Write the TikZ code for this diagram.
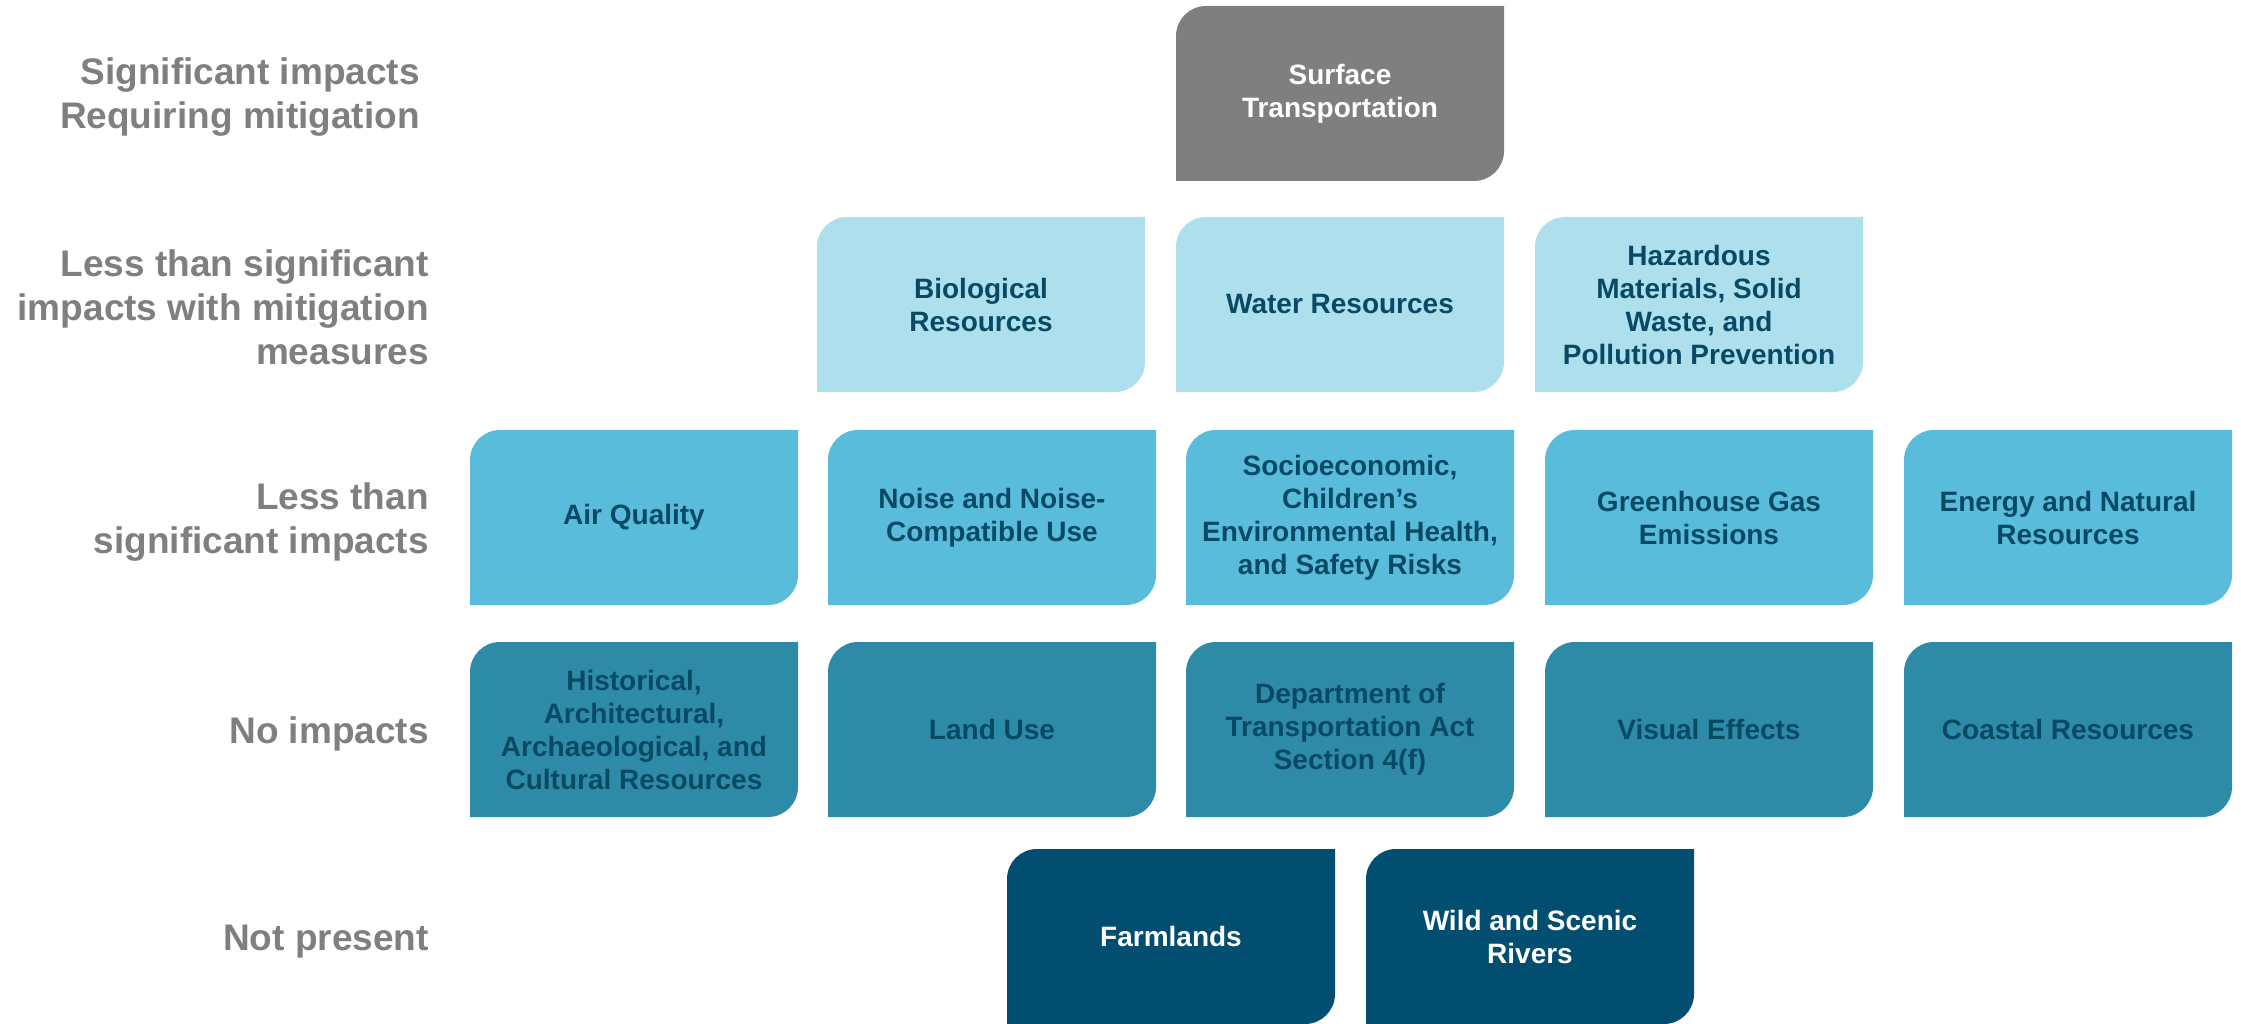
\documentclass[tikz,border=0pt]{standalone}
\usepackage{fontspec}
\setmainfont{Liberation Sans}
\definecolor{cgray}{RGB}{127,127,127}
\definecolor{clight}{RGB}{173,223,236}
\definecolor{cmid}{RGB}{90,188,219}
\definecolor{cteal}{RGB}{46,139,167}
\definecolor{cdark}{RGB}{2,78,112}
\definecolor{ctext}{RGB}{8,74,102}
\tikzset{
  leaf/.style={minimum width=328pt, minimum height=175pt, inner sep=0pt, align=center,
    font=\bfseries\fontsize{28}{33}\selectfont,
    path picture={\fill[#1] (path picture bounding box.south west)
      -- ([yshift=-30pt]path picture bounding box.north west)
      arc[start angle=180,end angle=90,radius=30pt]
      -- (path picture bounding box.north east)
      -- ([yshift=30pt]path picture bounding box.south east)
      arc[start angle=0,end angle=-90,radius=30pt] -- cycle;}},
  rowlabel/.style={anchor=east, align=right, inner sep=0pt, text=cgray,
    font=\bfseries\fontsize{37}{44}\selectfont},
}
\begin{document}
\begin{tikzpicture}[x=1pt,y=-1pt]
\useasboundingbox (0,0) rectangle (2241,1024);
% labels
\node[rowlabel] (l1) at (420,97.5) {Significant impacts\\Requiring mitigation};
\node[rowlabel] (l2) at (429,307) {Less than significant\\impacts with mitigation\\measures};
\node[rowlabel] (l3) at (429,522) {Less than\\significant impacts};
\node[rowlabel] (l4) at (429,734) {No impacts};
\node[rowlabel] (l5) at (429,942) {Not present};
% row 1
\node[leaf=cgray, text=white] (st) at (1340,93.5) {Surface\\Transportation};
% row 2
\node[leaf=clight, text=ctext] (bio) at (981,304.5) {Biological\\Resources};
\node[leaf=clight, text=ctext] (wat) at (1340,304.5) {Water Resources};
\node[leaf=clight, text=ctext] (haz) at (1699,304.5) {Hazardous\\Materials, Solid\\Waste, and\\Pollution Prevention};
% row 3
\node[leaf=cmid, text=ctext] (air) at (634,517.5) {Air Quality};
\node[leaf=cmid, text=ctext] (noi) at (992,517.5) {Noise and Noise-\\Compatible Use};
\node[leaf=cmid, text=ctext] (soc) at (1350,517.5) {Socioeconomic,\\Children’s\\Environmental Health,\\and Safety Risks};
\node[leaf=cmid, text=ctext] (ghg) at (1709,517.5) {Greenhouse Gas\\Emissions};
\node[leaf=cmid, text=ctext] (ene) at (2068,517.5) {Energy and Natural\\Resources};
% row 4
\node[leaf=cteal, text=ctext] (his) at (634,729.5) {Historical,\\Architectural,\\Archaeological, and\\Cultural Resources};
\node[leaf=cteal, text=ctext] (lan) at (992,729.5) {Land Use};
\node[leaf=cteal, text=ctext] (dot) at (1350,729.5) {Department of\\Transportation Act\\Section 4(f)};
\node[leaf=cteal, text=ctext] (vis) at (1709,729.5) {Visual Effects};
\node[leaf=cteal, text=ctext] (coa) at (2068,729.5) {Coastal Resources};
% row 5
\node[leaf=cdark, text=white] (far) at (1171,936.5) {Farmlands};
\node[leaf=cdark, text=white] (wil) at (1530,936.5) {Wild and Scenic\\Rivers};
\end{tikzpicture}
\end{document}
